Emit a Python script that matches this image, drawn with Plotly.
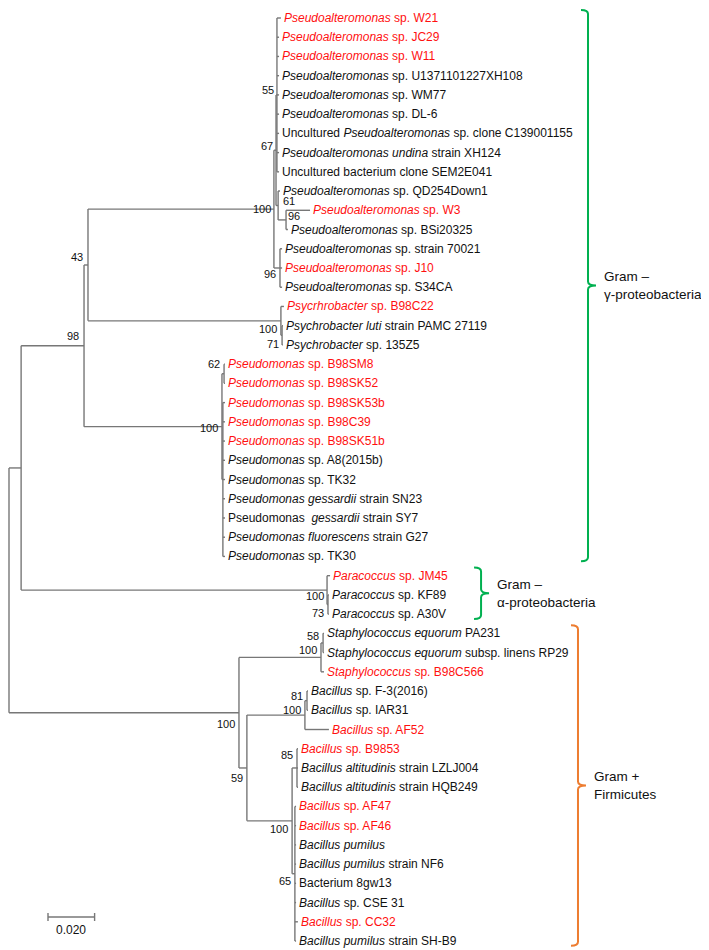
import plotly.graph_objects as go

# ---- data -------------------------------------------------------------
# leaves, top to bottom
leaf_labels = [
    "<i>Pseudoalteromonas</i> sp. W21",
    "<i>Pseudoalteromonas</i> sp. JC29",
    "<i>Pseudoalteromonas</i> sp. W11",
    "<i>Pseudoalteromonas</i> sp. U1371101227XH108",
    "<i>Pseudoalteromonas</i> sp. WM77",
    "<i>Pseudoalteromonas</i> sp. DL-6",
    "Uncultured <i>Pseudoalteromonas</i> sp. clone C139001155",
    "<i>Pseudoalteromonas undina</i> strain XH124",
    "Uncultured bacterium clone SEM2E041",
    "<i>Pseudoalteromonas</i> sp. QD254Down1",
    "<i>Pseudoalteromonas</i> sp. W3",
    "<i>Pseudoalteromonas</i> sp. BSi20325",
    "<i>Pseudoalteromonas</i> sp. strain 70021",
    "<i>Pseudoalteromonas</i> sp. J10",
    "<i>Pseudoalteromonas</i> sp. S34CA",
    "<i>Psycrhrobacter</i> sp. B98C22",
    "<i>Psychrobacter luti</i> strain PAMC 27119",
    "<i>Psychrobacter</i> sp. 135Z5",
    "<i>Pseudomonas</i> sp. B98SM8",
    "<i>Pseudomonas</i> sp. B98SK52",
    "<i>Pseudomonas</i> sp. B98SK53b",
    "<i>Pseudomonas</i> sp. B98C39",
    "<i>Pseudomonas</i> sp. B98SK51b",
    "<i>Pseudomonas</i> sp. A8(2015b)",
    "<i>Pseudomonas</i> sp. TK32",
    "<i>Pseudomonas gessardii</i> strain SN23",
    "Pseudomonas  <i>gessardii</i> strain SY7",
    "<i>Pseudomonas fluorescens</i> strain G27",
    "<i>Pseudomonas</i> sp. TK30",
    "<i>Paracoccus</i> sp. JM45",
    "<i>Paracoccus</i> sp. KF89",
    "<i>Paracoccus</i> sp. A30V",
    "<i>Staphylococcus equorum</i> PA231",
    "<i>Staphylococcus equorum</i> subsp. linens RP29",
    "<i>Staphylococcus</i> sp. B98C566",
    "<i>Bacillus</i> sp. F-3(2016)",
    "<i>Bacillus</i> sp. IAR31",
    "<i>Bacillus</i> sp. AF52",
    "<i>Bacillus</i> sp. B9853",
    "<i>Bacillus altitudinis</i> strain LZLJ004",
    "<i>Bacillus altitudinis</i> strain HQB249",
    "<i>Bacillus</i> sp. AF47",
    "<i>Bacillus</i> sp. AF46",
    "<i>Bacillus pumilus</i>",
    "<i>Bacillus pumilus</i> strain NF6",
    "Bacterium 8gw13",
    "<i>Bacillus</i> sp. CSE 31",
    "<i>Bacillus</i> sp. CC32",
    "<i>Bacillus pumilus</i> strain SH-B9",
]

# isolates from this study (drawn red)
red_leaves = [0, 1, 2, 10, 13, 15, 18, 19, 20, 21, 22, 29, 34, 37, 38, 41, 42, 47]

# distance from root to each tip (substitutions per site)
leaf_depth = [
    0.1167, 0.1159, 0.1159, 0.1159, 0.1159, 0.1159, 0.1159, 0.1159, 0.1159,
    0.1163, 0.1292, 0.1197, 0.1172, 0.1172, 0.1172,
    0.1180, 0.1176, 0.1176,
    0.0927, 0.0927, 0.0927, 0.0927, 0.0927, 0.0927, 0.0927, 0.0927, 0.0927,
    0.0927, 0.0927,
    0.1378, 0.1373, 0.1373,
    0.1352, 0.1352, 0.1352,
    0.1283, 0.1283, 0.1373,
    0.1240, 0.1240, 0.1240,
    0.1232, 0.1232, 0.1232, 0.1232, 0.1232, 0.1232, 0.1240, 0.1232,
]

# internal nodes: (id, children, depth, bootstrap)
nodes = [
    ("root", ["n14", "firm"], 0.0, None),
    ("n14", ["n98", "para100"], 0.0052, None),
    ("n98", ["n43", "pm100"], 0.0322, 98),
    ("n43", ["psa100", "psy100"], 0.0339, 43),
    ("psa100", ["psa67", "psa96b"], 0.1137, 100),
    ("psa67", ["psa55", "psa61"], 0.1146, 67),
    ("psa55", [0, 1, 2, 3, 4, 5, 6, 7, 8], 0.1150, 55),
    ("psa61", [9, "psa96"], 0.1155, 61),
    ("psa96", [10, 11], 0.1189, 96),
    ("psa96b", [12, 13, 14], 0.1163, 96),
    ("psy100", [15, "psy71"], 0.1167, 100),
    ("psy71", [16, 17], 0.1172, 71),
    ("pm100", ["pm62", "pmx"], 0.0914, 100),
    ("pm62", [18, 19], 0.0923, 62),
    ("pmx", [20, 21, 22, 23, 24, 25, 26, 27, 28], 0.0918, None),
    ("para100", [29, "para73"], 0.1365, 100),
    ("para73", [30, 31], 0.1369, 73),
    ("firm", ["staph100", "bac59"], 0.0987, 100),
    ("staph100", ["staph58", 34], 0.1339, 100),
    ("staph58", [32, 33], 0.1348, 58),
    ("bac59", ["bacs100", "bacb100"], 0.1021, 59),
    ("bacs100", ["bac81", 37], 0.1270, 100),
    ("bac81", [35, 36], 0.1279, 81),
    ("bacb100", ["bac85", "bac65"], 0.1215, 100),
    ("bac85", [38, 39, 40], 0.1236, 85),
    ("bac65", [41, 42, 43, 44, 45, 46, 47, 48], 0.1227, 65),
]

# group brackets: (first leaf, last leaf, depth of bracket, colour, text)
brackets = [
    (0, 28, 0.2485, "#00b050", "Gram –<br>γ-proteobacteria"),
    (29, 31, 0.2026, "#00b050", "Gram –<br>α-proteobacteria"),
    (32, 48, 0.2442, "#ed7d31", "Gram +<br>Firmicutes"),
]

scale_len = 0.02
scale_label = "0.020"

# ---- layout helpers ----------------------------------------------------
PX_PER_UNIT = 2330.0   # horizontal pixels per substitution/site
ROW_PX = 19.23         # pixels between leaves
TOP_PX = 10.0          # pixel row of first leaf
W, H = 709, 950

# bootstrap label placement (anchor, dx px, dy px down)
label_nudge = {
    "n98": ("right", -4, -10), "n43": ("right", -4, -8),
    "psa100": ("right", -2, 0), "psa67": ("right", -2, -4),
    "psa55": ("right", -2, -5), "psa61": ("left", 4, -4),
    "psa96": ("left", 1, -4), "psa96b": ("right", -3, 6),
    "psy100": ("right", -3, 8), "psy71": ("right", -2, 9),
    "pm100": ("right", -3, 1), "pm62": ("right", -3, -10),
    "para100": ("right", -2, 6), "para73": ("right", -3, 8),
    "firm": ("right", -3, 11), "staph100": ("right", -3, -7),
    "staph58": ("right", -3, -7), "bac59": ("right", -3, 10),
    "bacs100": ("right", -3, -5), "bac81": ("right", -3, -5),
    "bacb100": ("right", -3, 8), "bac85": ("right", -3, -13),
    "bac65": ("right", -3, 7),
}

FONT = "Liberation Sans, Arial, sans-serif"
LINE = "#777777"

node_map = {n[0]: n for n in nodes}
pos = {}


def place(key):
    if isinstance(key, int):
        return leaf_depth[key], float(key)
    if key in pos:
        return pos[key]
    _, children, depth, _ = node_map[key]
    ys = [place(c)[1] for c in children]
    pos[key] = (depth, (ys[0] + ys[-1]) / 2)
    return pos[key]


place("root")

xs, ys = [], []
for key, children, depth, _ in nodes:
    x0, y0 = pos[key]
    cpos = [place(c) for c in children]
    xs += [x0, x0, None]
    ys += [cpos[0][1], cpos[-1][1], None]
    for cx, cy in cpos:
        xs += [x0, cx, None]
        ys += [cy, cy, None]

fig = go.Figure()
fig.add_trace(go.Scatter(x=xs, y=ys, mode="lines",
                         line=dict(color=LINE, width=1.4),
                         hoverinfo="skip"))

annotations = []
for i, lab in enumerate(leaf_labels):
    annotations.append(dict(
        x=leaf_depth[i], y=i, text=lab, showarrow=False,
        xanchor="left", yanchor="middle", xshift=1,
        font=dict(family=FONT, size=12,
                  color="#ff1010" if i in red_leaves else "#111111")))

for key, children, depth, bs in nodes:
    if bs is None:
        continue
    anchor, dx, dy = label_nudge.get(key, ("right", -3, 0))
    x0, y0 = pos[key]
    annotations.append(dict(
        x=x0, y=y0, text=str(bs), showarrow=False,
        xanchor=anchor, yanchor="middle", xshift=dx, yshift=-dy,
        borderpad=0,
        font=dict(family=FONT, size=11, color="#111111")))

# curly brackets
arm = 7 / PX_PER_UNIT
tip = 8 / PX_PER_UNIT
r = 4 / ROW_PX
shapes = []
for first, last, bx, col, txt in brackets:
    t = first - 0.42
    b = last + 0.25
    m = (t + b) / 2
    path = (f"M {bx - arm},{t} Q {bx},{t} {bx},{t + r} L {bx},{m - r} "
            f"Q {bx},{m} {bx + tip},{m} Q {bx},{m} {bx},{m + r} "
            f"L {bx},{b - r} Q {bx},{b} {bx - arm},{b}")
    shapes.append(dict(type="path", path=path, xref="x", yref="y",
                       line=dict(color=col, width=2)))
    annotations.append(dict(
        x=bx + tip, y=m, text=txt, showarrow=False, align="left",
        xanchor="left", yanchor="middle", xshift=6,
        font=dict(family=FONT, size=13.5, color="#111111")))

# scale bar
sb_x0 = 39 / PX_PER_UNIT
sb_y = (909 - TOP_PX) / ROW_PX
tick = 4 / ROW_PX
fig.add_trace(go.Scatter(
    x=[sb_x0, sb_x0 + scale_len, None, sb_x0, sb_x0, None,
       sb_x0 + scale_len, sb_x0 + scale_len],
    y=[sb_y, sb_y, None, sb_y - tick, sb_y + tick, None,
       sb_y - tick, sb_y + tick],
    mode="lines", line=dict(color=LINE, width=1.4), hoverinfo="skip"))
annotations.append(dict(
    x=sb_x0 + scale_len / 2, y=sb_y, text=scale_label, showarrow=False,
    xanchor="center", yanchor="top", yshift=-4,
    font=dict(family=FONT, size=12, color="#111111")))

fig.update_layout(
    width=W, height=H,
    margin=dict(l=0, r=0, t=0, b=0),
    plot_bgcolor="white", paper_bgcolor="white",
    showlegend=False,
    xaxis=dict(range=[-1 / PX_PER_UNIT, (W - 1) / PX_PER_UNIT],
               visible=False, fixedrange=True),
    yaxis=dict(range=[(H - TOP_PX) / ROW_PX, -TOP_PX / ROW_PX],
               visible=False, fixedrange=True),
    shapes=shapes,
    annotations=annotations,
)

fig.write_html("out.html")
